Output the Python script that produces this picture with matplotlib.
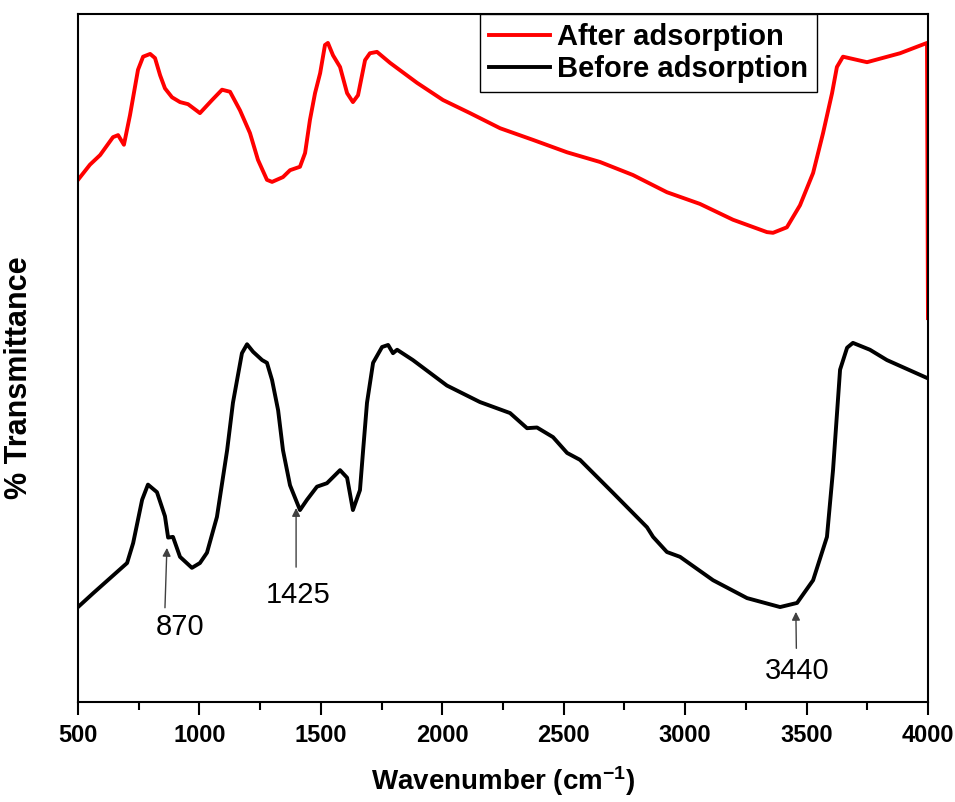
import matplotlib
matplotlib.use('Agg')
import matplotlib.pyplot as plt
from matplotlib.ticker import MultipleLocator

plt.rcParams['font.family'] = ['Liberation Sans', 'DejaVu Sans']
plt.rcParams['mathtext.default'] = 'regular'

# FTIR spectra (wavenumber in cm-1, transmittance in arbitrary %)
wn_after = [500, 549, 591, 644, 665, 689, 714, 747, 768, 797, 817, 838, 858, 887, 920, 953,
            1002, 1052, 1093, 1126, 1167, 1208, 1241, 1278, 1299, 1344, 1373, 1414, 1435,
            1455, 1476, 1497, 1517, 1529, 1550, 1579, 1608, 1632, 1653, 1682, 1702, 1731,
            1785, 1896, 2003, 2114, 2238, 2374, 2514, 2649, 2785, 2925, 3061, 3197, 3337,
            3362, 3419, 3473, 3527, 3568, 3605, 3625, 3650, 3749, 3885, 3996, 4000]
t_after = [75.9, 78.1, 79.5, 82.1, 82.4, 81.0, 85.3, 91.9, 93.8, 94.2, 93.6, 91.1, 89.2, 87.9,
           87.2, 86.9, 85.6, 87.5, 89.0, 88.7, 86.0, 82.7, 78.8, 75.9, 75.6, 76.3, 77.3, 77.8,
           79.8, 84.6, 88.5, 91.4, 95.5, 95.8, 94.0, 92.3, 88.5, 87.2, 88.2, 93.3, 94.3, 94.5,
           92.9, 90.0, 87.5, 85.6, 83.4, 81.7, 79.9, 78.5, 76.6, 74.1, 72.4, 70.1, 68.3, 68.2,
           69.0, 72.2, 76.9, 82.7, 88.5, 92.3, 93.8, 93.0, 94.3, 95.8, 55.8]

wn_before = [500, 562, 632, 702, 727, 764, 788, 825, 858, 871, 891, 920, 969, 1002, 1031, 1072,
             1114, 1138, 1175, 1196, 1221, 1258, 1278, 1299, 1324, 1344, 1373, 1414, 1443,
             1484, 1525, 1579, 1608, 1632, 1661, 1674, 1690, 1715, 1752, 1777, 1797, 1814,
             1879, 2019, 2155, 2279, 2349, 2390, 2456, 2514, 2567, 2703, 2843, 2868, 2925,
             2979, 3115, 3255, 3391, 3461, 3527, 3584, 3609, 3638, 3667, 3691, 3761, 3831, 3996]
t_before = [13.8, 15.8, 18.0, 20.2, 23.1, 29.4, 31.6, 30.5, 27.0, 23.9, 24.0, 21.1, 19.5, 20.2,
            21.7, 26.9, 36.6, 43.5, 50.7, 52.0, 50.9, 49.7, 49.3, 46.8, 42.4, 36.6, 31.5, 27.9,
            29.4, 31.3, 31.8, 33.7, 32.6, 27.9, 30.8, 36.6, 43.5, 49.3, 51.6, 51.9, 50.7, 51.2,
            49.7, 46.0, 43.6, 42.0, 39.8, 39.9, 38.5, 36.2, 35.2, 30.4, 25.4, 24.0, 21.8, 21.1,
            17.7, 15.1, 13.8, 14.4, 17.7, 24.0, 33.7, 48.3, 51.5, 52.2, 51.2, 49.7, 47.1]

# band annotations: label, arrow head (wn, T), arrow tail (wn, T), text position (wn, T)
peak_labels = ['870', '1425', '3440']
peak_heads = [(866, 22.4), (1398, 28.2), (3456, 13.1)]
peak_tails = [(858, 13.7), (1398, 19.6), (3458, 7.8)]
peak_text = [(920, 10.9), (1406, 15.6), (3460, 4.5)]

fig = plt.figure(figsize=(9.55, 8.02), dpi=100)
ax = fig.add_axes([0.0817, 0.1247, 0.89, 0.8578])

ax.plot(wn_after, t_after, color='#ff0000', lw=2.8, solid_joinstyle='round',
        label='After adsorption')
ax.plot(wn_before, t_before, color='black', lw=2.8, solid_joinstyle='round',
        label='Before adsorption')

for lab, head, tail, pos in zip(peak_labels, peak_heads, peak_tails, peak_text):
    ax.annotate('', xy=head, xytext=tail,
                arrowprops=dict(arrowstyle='-|>', color='0.25', lw=1, mutation_scale=12,
                                shrinkA=0, shrinkB=0))
    ax.text(pos[0], pos[1], lab, ha='center', va='center', fontsize=21)

ax.set_xlim(500, 4000)
ax.set_ylim(0, 100)
ax.xaxis.set_major_locator(MultipleLocator(500))
ax.xaxis.set_minor_locator(MultipleLocator(250))
ax.set_yticks([])
ax.tick_params(axis='x', which='major', direction='out', length=9, width=1.5, pad=7,
               labelsize=17)
ax.tick_params(axis='x', which='minor', direction='out', length=5.5, width=1.5)
for lbl in ax.get_xticklabels():
    lbl.set_fontweight('bold')
for sp in ax.spines.values():
    sp.set_linewidth(1.5)

ax.set_xlabel('Wavenumber (cm$^{-1}$)', fontsize=20, fontweight='bold', labelpad=12)
ax.set_ylabel('% Transmittance', fontsize=22, fontweight='bold')
ax.yaxis.set_label_coords(-0.052, 0.472)

leg = ax.legend(loc='upper left', bbox_to_anchor=(0.473, 1.0), borderaxespad=0,
                prop={'size': 21, 'weight': 'bold'}, handlelength=2.1, handletextpad=0.25,
                labelspacing=0.15, borderpad=0.3, fancybox=False, framealpha=1)
leg.get_frame().set_edgecolor('black')
leg.get_frame().set_linewidth(1.0)

fig.savefig('out.png', dpi=100)
